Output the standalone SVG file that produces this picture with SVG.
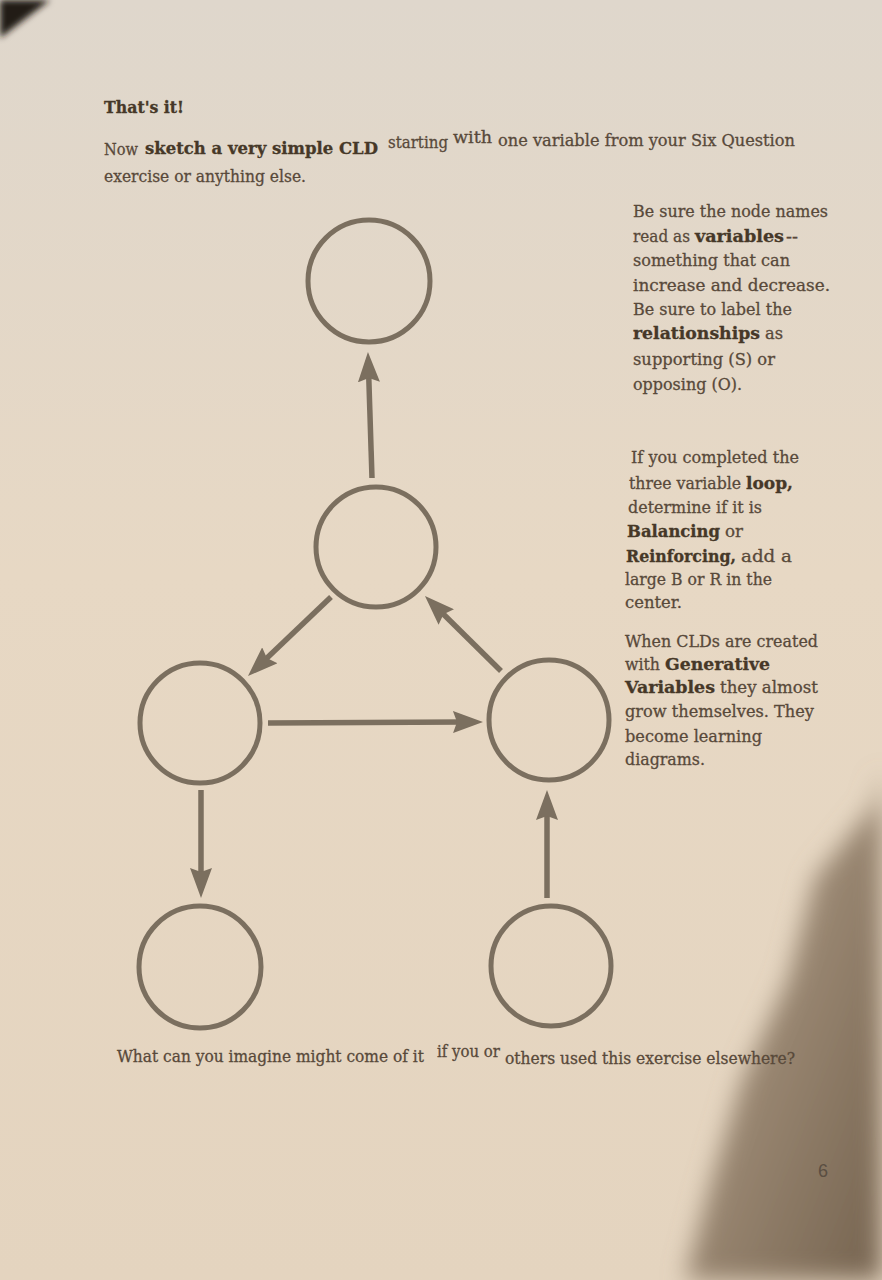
<svg xmlns="http://www.w3.org/2000/svg" width="882" height="1280" viewBox="0 0 882 1280">
<defs>
<style>
.t{font-family:"DejaVu Serif","Liberation Serif",serif;font-size:16.5px;fill:#58493a;stroke:#58493a;stroke-width:0.3}
.b{font-weight:700;fill:#463828;stroke:#463828}
.node{fill:none;stroke:#7b6f5f;stroke-width:5}
.edge{fill:none;stroke:#7b6f5f;stroke-width:5.5;marker-end:url(#ah)}
.pg{font-family:"Liberation Sans",Arial,sans-serif;font-size:18px;fill:#5a4e42}
</style>
<linearGradient id="paper" x1="0" y1="0" x2="0" y2="1">
<stop offset="0" stop-color="#dfd7cc"/>
<stop offset="0.45" stop-color="#e7d8c4"/>
<stop offset="1" stop-color="#e4d4bf"/>
</linearGradient>
<linearGradient id="shade" x1="0" y1="0" x2="1" y2="1">
<stop offset="0" stop-color="#bba892"/>
<stop offset="1" stop-color="#75634f"/>
</linearGradient>
<filter id="blur" x="-20%" y="-20%" width="140%" height="140%"><feGaussianBlur stdDeviation="12"/></filter>
<filter id="blur2" x="-50%" y="-50%" width="200%" height="200%"><feGaussianBlur stdDeviation="3"/></filter>
<marker id="ah" viewBox="0 0 30 22" markerWidth="30" markerHeight="22" refX="10" refY="11" orient="auto" markerUnits="userSpaceOnUse">
<path d="M0,0 L30,11 L0,22 L4,11 z" fill="#7b6f5f"/>
</marker>
</defs>
<rect width="882" height="1280" fill="url(#paper)"/>
<path d="M882,770 L874,806 L815,878 L788,980 L742,1080 L712,1180 L685,1280 L882,1280 Z" fill="url(#shade)" filter="url(#blur)"/>
<path d="M0,0 L50,0 L0,38 Z" fill="#231d18" filter="url(#blur2)"/>

<g id="heading">
<text class="t b" x="104" y="113" textLength="80" lengthAdjust="spacingAndGlyphs">That's it!</text>
<text class="t" x="104" y="155" textLength="34" lengthAdjust="spacingAndGlyphs">Now</text>
<text class="t b" x="145" y="154" textLength="233" lengthAdjust="spacingAndGlyphs">sketch a very simple CLD</text>
<text class="t" x="388" y="148" textLength="60" lengthAdjust="spacingAndGlyphs">starting</text>
<text class="t" x="453" y="143" textLength="39" lengthAdjust="spacingAndGlyphs">with</text>
<text class="t" x="498" y="146" textLength="297" lengthAdjust="spacingAndGlyphs">one variable from your Six Question</text>
<text class="t" x="104" y="182" textLength="202" lengthAdjust="spacingAndGlyphs">exercise or anything else.</text>
</g>

<g id="notes">
<text class="t" x="633" y="217" textLength="195" lengthAdjust="spacingAndGlyphs">Be sure the node names</text>
<text class="t" x="633" y="242" textLength="57" lengthAdjust="spacingAndGlyphs">read as</text>
<text class="t b" x="695" y="242" textLength="89" lengthAdjust="spacingAndGlyphs">variables</text>
<text class="t" x="786" y="242" textLength="12" lengthAdjust="spacingAndGlyphs">--</text>
<text class="t" x="633" y="266" textLength="157" lengthAdjust="spacingAndGlyphs">something that can</text>
<text class="t" x="633" y="291" textLength="197" lengthAdjust="spacingAndGlyphs">increase and decrease.</text>
<text class="t" x="633" y="315" textLength="159" lengthAdjust="spacingAndGlyphs">Be sure to label the</text>
<text class="t b" x="633" y="339" textLength="127" lengthAdjust="spacingAndGlyphs">relationships</text>
<text class="t" x="765" y="339" textLength="18" lengthAdjust="spacingAndGlyphs">as</text>
<text class="t" x="633" y="365" textLength="142" lengthAdjust="spacingAndGlyphs">supporting (S) or</text>
<text class="t" x="633" y="390" textLength="109" lengthAdjust="spacingAndGlyphs">opposing (O).</text>

<text class="t" x="631" y="463" textLength="168" lengthAdjust="spacingAndGlyphs">If you completed the</text>
<text class="t" x="629" y="489" textLength="112" lengthAdjust="spacingAndGlyphs">three variable</text>
<text class="t b" x="746" y="489" textLength="47" lengthAdjust="spacingAndGlyphs">loop,</text>
<text class="t" x="628" y="513" textLength="134" lengthAdjust="spacingAndGlyphs">determine if it is</text>
<text class="t b" x="627" y="537" textLength="93" lengthAdjust="spacingAndGlyphs">Balancing</text>
<text class="t" x="725" y="537" textLength="18" lengthAdjust="spacingAndGlyphs">or</text>
<text class="t b" x="626" y="562" textLength="110" lengthAdjust="spacingAndGlyphs">Reinforcing,</text>
<text class="t" x="741" y="562" textLength="51" lengthAdjust="spacingAndGlyphs">add a</text>
<text class="t" x="625" y="585" textLength="147" lengthAdjust="spacingAndGlyphs">large B or R in the</text>
<text class="t" x="625" y="608" textLength="57" lengthAdjust="spacingAndGlyphs">center.</text>

<text class="t" x="625" y="647" textLength="193" lengthAdjust="spacingAndGlyphs">When CLDs are created</text>
<text class="t" x="625" y="670" textLength="35" lengthAdjust="spacingAndGlyphs">with</text>
<text class="t b" x="665" y="670" textLength="105" lengthAdjust="spacingAndGlyphs">Generative</text>
<text class="t b" x="625" y="693" textLength="90" lengthAdjust="spacingAndGlyphs">Variables</text>
<text class="t" x="720" y="693" textLength="98" lengthAdjust="spacingAndGlyphs">they almost</text>
<text class="t" x="625" y="717" textLength="189" lengthAdjust="spacingAndGlyphs">grow themselves. They</text>
<text class="t" x="625" y="742" textLength="137" lengthAdjust="spacingAndGlyphs">become learning</text>
<text class="t" x="625" y="765" textLength="80" lengthAdjust="spacingAndGlyphs">diagrams.</text>
</g>

<g id="connectors">
<path class="edge" d="M372,478 L368.6,372"/>
<path class="edge" d="M331,597 L262.5,662.2"/>
<path class="edge" d="M501,671 L439.2,610"/>
<path class="edge" d="M268,723 L463,722"/>
<path class="edge" d="M201,790 L201,878"/>
<path class="edge" d="M547,898 L547,810"/>
</g>

<g id="node-top"><circle class="node" cx="369" cy="281" r="61"/></g>
<g id="node-middle"><circle class="node" cx="376" cy="547" r="60"/></g>
<g id="node-left"><circle class="node" cx="200" cy="723" r="60"/></g>
<g id="node-right"><circle class="node" cx="549" cy="720" r="60"/></g>
<g id="node-bottom-left"><circle class="node" cx="200" cy="967" r="61"/></g>
<g id="node-bottom-right"><circle class="node" cx="551" cy="966" r="60"/></g>

<g id="question">
<text class="t" x="117" y="1062" textLength="307" lengthAdjust="spacingAndGlyphs">What can you imagine might come of it</text>
<text class="t" x="437" y="1057" textLength="63" lengthAdjust="spacingAndGlyphs">if you or</text>
<text class="t" x="505" y="1064" textLength="290" lengthAdjust="spacingAndGlyphs">others used this exercise elsewhere?</text>
</g>

<text class="pg" x="818" y="1177">6</text>
</svg>
